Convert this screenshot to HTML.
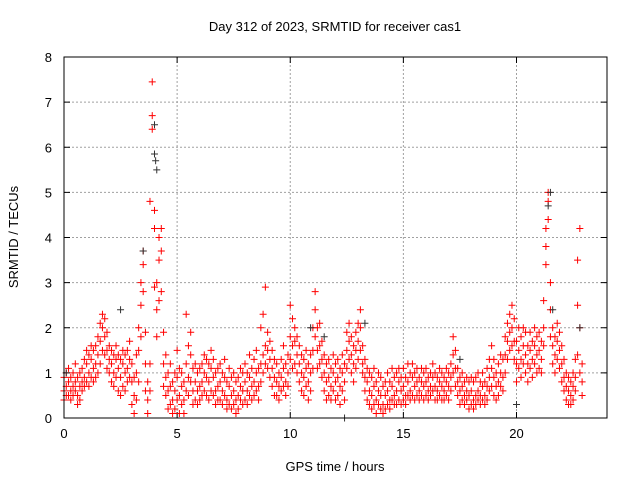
<!DOCTYPE html>
<html><head><meta charset="utf-8"><style>
body{margin:0;background:#fff}
svg text{font-family:"Liberation Sans",sans-serif;font-size:13px;fill:#000}
</style></head><body>
<svg id="chart" width="640" height="480" xmlns="http://www.w3.org/2000/svg">
<rect width="640" height="480" fill="#fff"/>
<text x="335" y="31" text-anchor="middle">Day 312 of 2023, SRMTID for receiver cas1</text>
<text x="335" y="471" text-anchor="middle">GPS time / hours</text>
<text x="18" y="237" text-anchor="middle" transform="rotate(-90 18 237)">SRMTID / TECUs</text>
<g id="grid"></g>
<g id="ticks"></g>
<g id="red"></g>
<g id="black"></g>
<rect x="64" y="57" width="543" height="361" fill="none" stroke="#000" stroke-width="1"/>
</svg>
<script>
const xTicks=[0,5,10,15,20];
const yTicks=[0,1,2,3,4,5,6,7,8];
const redT=[0,0.1,0.2,0.3,0.4,0.5,0.6,0.7,0.8,0.9,1,1.1,1.2,1.3,1.4,1.5,1.6,1.7,1.8,1.9,2,2.1,2.2,2.3,2.4,2.5,2.6,2.7,2.8,2.9,3,3.1,3.2,3.3,3.4,3.5,3.6,3.7,3.8,3.9,4,4.1,4.2,4.3,4.4,4.5,4.6,4.7,4.8,4.9,5,5.1,5.2,5.3,5.4,5.5,5.6,5.7,5.8,5.9,6,6.1,6.2,6.3,6.4,6.5,6.6,6.7,6.8,6.9,7,7.1,7.2,7.3,7.4,7.5,7.6,7.7,7.8,7.9,8,8.1,8.2,8.3,8.4,8.5,8.6,8.7,8.8,8.9,9,9.1,9.2,9.3,9.4,9.5,9.6,9.7,9.8,9.9,10,10.1,10.2,10.3,10.4,10.5,10.6,10.7,10.8,10.9,11,11.1,11.2,11.3,11.4,11.5,11.6,11.7,11.8,11.9,12,12.1,12.2,12.3,12.4,12.5,12.6,12.7,12.8,12.9,13,13.1,13.2,13.3,13.4,13.5,13.6,13.7,13.8,13.9,14,14.1,14.2,14.3,14.4,14.5,14.6,14.7,14.8,14.9,15,15.1,15.2,15.3,15.4,15.5,15.6,15.7,15.8,15.9,16,16.1,16.2,16.3,16.4,16.5,16.6,16.7,16.8,16.9,17,17.1,17.2,17.3,17.4,17.5,17.6,17.7,17.8,17.9,18,18.1,18.2,18.3,18.4,18.5,18.6,18.7,18.8,18.9,19,19.1,19.2,19.3,19.4,19.5,19.6,19.7,19.8,19.9,20,20.1,20.2,20.3,20.4,20.5,20.6,20.7,20.8,20.9,21,21.1,21.2,21.3,21.4,21.5,21.6,21.7,21.8,21.9,22,22.1,22.2,22.3,22.4,22.5,22.6,22.7,22.8,22.9];
const redV=[
[0.9,0.6,0.4],[0.7,1.0,0.5],[0.8,0.5,1.1],[0.6,0.9,0.4],[1.0,0.7,0.5],[0.8,1.2,0.6],[0.9,0.5,0.3],[0.7,1.0,0.4],[1.1,0.8,0.6],[0.9,1.3,0.7],
[1.2,0.8,1.5],[1.0,1.4,0.7],[1.3,0.9,1.6],[1.1,1.5,0.8],[1.6,1.2,0.9],[1.4,1.0,1.8],[1.7,2.1,1.2],[2.0,1.5,2.3],[1.8,1.4,2.2],[1.5,1.1,1.9],
[1.3,1.0,1.6],[1.2,0.8,1.5],[1.0,1.4,0.7],[1.3,0.9,1.6],[1.1,0.6,1.4],[0.9,1.3,0.5],[1.2,0.7,1.5],[1.0,1.4,0.6],[1.5,1.1,0.8],[1.3,0.9,1.7],
[0.8,0.3,1.2],[0.5,0.1,0.9],[1.0,0.4,1.4],[1.5,0.8,2.0],[2.5,1.8,3.0],[3.4,2.8,3.7],[1.9,1.2,0.6],[0.4,0.1,0.8],[1.2,0.6,4.8],[6.7,6.4,7.45],
[4.6,4.2,2.9],[2.4,1.8,3.0],[3.5,4.0,2.6],[4.2,3.7,2.8],[1.9,1.2,0.7],[0.9,0.5,1.4],[1.0,0.6,0.2],[0.7,0.3,1.2],[0.4,0.1,0.8],[0.6,0.2,1.0],
[0.9,0.4,1.5],[0.5,0.1,1.1],[0.7,0.3,1.0],[0.4,0.8,0.1],[1.2,0.6,2.3],[0.9,1.6,0.5],[1.4,0.8,1.9],[0.6,1.1,0.3],[0.8,0.4,1.2],[1.0,0.6,0.3],
[0.7,1.1,0.4],[1.2,0.8,0.5],[1.0,1.4,0.6],[1.3,0.9,0.5],[0.8,1.2,0.4],[1.1,0.6,1.5],[0.9,1.3,0.5],[1.0,0.6,0.3],[0.7,1.1,0.4],[0.8,0.4,1.2],
[0.6,1.0,0.3],[0.9,0.5,1.3],[0.4,0.8,0.2],[0.7,0.3,1.1],[0.5,0.9,0.2],[0.6,0.3,1.0],[0.4,0.8,0.1],[0.5,0.2,0.9],[0.7,0.4,1.1],[0.6,1.0,0.3],
[0.8,0.4,1.2],[0.6,1.0,0.3],[0.9,0.5,1.4],[1.1,0.7,0.4],[0.8,1.3,0.5],[1.0,0.6,1.5],[0.7,1.1,0.4],[1.2,0.8,2.0],[1.4,1.0,2.3],[1.6,1.2,2.9],
[1.5,1.1,1.9],[1.3,0.9,1.7],[1.1,0.7,1.5],[0.9,0.5,1.3],[0.8,1.2,0.5],[0.7,1.0,0.4],[0.9,0.6,1.3],[1.1,0.7,1.6],[0.8,1.2,0.5],[1.0,0.7,1.4],
[1.8,1.3,2.5],[2.2,1.6,1.1],[1.7,1.2,2.0],[1.4,1.0,1.8],[1.2,0.8,1.6],[1.0,0.6,1.4],[0.9,1.3,0.5],[1.1,0.7,1.5],[0.8,1.2,0.4],[1.0,0.6,1.4],
[1.5,1.1,2.0],[2.4,1.8,2.8],[2.0,1.5,1.1],[1.6,1.2,2.1],[1.3,0.9,1.7],[1.0,0.6,1.4],[0.8,1.2,0.4],[0.9,0.5,1.3],[0.7,1.1,0.4],[1.0,0.6,1.4],
[0.8,1.2,0.4],[0.9,0.5,1.3],[0.7,1.1,0.3],[1.0,0.6,1.4],[0.8,0.4,1.2],[1.5,1.1,1.9],[1.7,1.3,2.1],[1.4,1.0,1.8],[1.2,0.8,1.6],[1.5,1.1,1.9],
[1.7,1.3,2.1],[2.0,1.5,2.4],[1.6,1.2,1.0],[1.3,0.9,0.6],[0.8,0.4,1.1],[0.6,0.3,1.0],[0.5,0.2,0.9],[0.7,0.3,1.1],[0.4,0.1,0.8],[0.6,0.3,1.0],
[0.5,0.2,0.9],[0.3,0.1,0.7],[0.5,0.2,0.8],[0.6,0.3,1.0],[0.4,0.8,0.2],[0.7,0.4,1.1],[0.5,0.9,0.3],[0.6,0.3,1.0],[0.8,0.4,1.1],[0.6,0.9,0.3],
[0.7,0.4,1.1],[0.5,0.9,0.3],[0.8,0.5,1.2],[0.6,1.0,0.4],[0.9,0.5,1.2],[0.7,0.4,1.0],[0.8,0.5,1.1],[0.6,0.9,0.4],[0.8,0.5,1.1],[0.7,1.0,0.4],
[0.8,0.5,1.1],[0.6,0.9,0.4],[0.7,0.5,1.0],[0.9,0.6,1.2],[0.7,0.4,1.0],[0.6,0.9,0.4],[0.8,0.5,1.1],[0.7,0.4,1.0],[0.6,0.9,0.4],[0.8,0.5,1.1],
[0.7,1.0,0.4],[0.9,0.6,1.2],[1.4,1.0,1.8],[1.1,0.7,1.5],[0.8,0.5,1.1],[0.6,0.3,0.9],[0.7,0.4,1.0],[0.5,0.8,0.3],[0.6,0.9,0.4],[0.5,0.2,0.8],
[0.6,0.3,0.9],[0.4,0.8,0.2],[0.5,0.3,0.9],[0.6,1.0,0.4],[0.5,0.3,0.8],[0.7,0.4,1.0],[0.5,0.8,0.3],[0.7,1.1,0.4],[0.9,0.6,1.3],[1.1,0.7,1.6],
[0.9,0.5,1.3],[0.7,1.0,0.4],[0.8,0.5,1.2],[1.0,0.7,1.4],[0.9,0.6,1.3],[1.4,1.0,1.8],[1.7,1.3,2.1],[1.9,1.5,2.3],[2.0,1.6,2.5],[1.7,1.3,2.2],
[1.2,0.8,1.7],[1.5,1.1,2.0],[1.3,0.9,1.8],[1.6,1.2,2.0],[1.4,1.0,1.9],[1.2,0.8,1.6],[1.5,1.1,1.9],[1.3,0.9,1.7],[1.6,1.2,2.0],[1.4,1.0,1.8],
[1.5,1.1,1.9],[1.3,1.0,1.7],[2.0,1.6,2.6],[3.8,3.4,4.2],[4.8,4.4,5.0],[3.0,2.4,1.8],[1.6,1.2,2.0],[1.4,1.0,1.8],[1.7,1.3,2.1],[1.5,1.1,1.9],
[1.2,0.8,1.6],[0.9,0.6,1.3],[0.7,0.4,1.0],[0.6,0.3,0.9],[0.5,0.8,0.3],[0.7,1.0,0.4],[0.9,0.6,1.3],[1.4,2.5,3.5],[4.2,2.0,1.0],[0.8,0.5,1.2]];
const blackT=[0.1,2.5,3.5,4.0,4.0,4.05,4.1,10.9,11.5,12.4,13.3,17.5,20.0,21.4,21.5,21.6,22.8];
const blackV=[1.0,2.4,3.7,6.5,5.85,5.7,5.5,2.0,1.8,0.0,2.1,1.3,0.3,4.7,5.0,2.4,2.0];

const NS='http://www.w3.org/2000/svg';
const X0=64,X1=607,Y0=418,Y1=57,XMAX=24,YMAX=8;
function sx(v){return X0+v/XMAX*(X1-X0);}
function sy(v){return Y0-v/YMAX*(Y0-Y1);}
function mk(tag,attrs,parent){const e=document.createElementNS(NS,tag);for(const k in attrs)e.setAttribute(k,attrs[k]);parent.appendChild(e);return e;}
const grid=document.getElementById('grid'),ticks=document.getElementById('ticks');
xTicks.forEach(t=>{const x=sx(t);
 if(t>0){const g=mk('line',{x1:x,x2:x,y1:Y1,y2:Y0,stroke:'#a0a0a0','stroke-dasharray':'2,2'},grid);
 
 }
 mk('line',{x1:x,x2:x,y1:Y0,y2:Y0-6,stroke:'#000'},ticks);mk('line',{x1:x,x2:x,y1:Y1,y2:Y1+6,stroke:'#000'},ticks);
 const l=mk('text',{x:x,y:Y0+20,'text-anchor':'middle'},ticks);l.textContent=t;
 
 });
yTicks.forEach(t=>{const y=sy(t);
 if(t>0&&t<8){const g=mk('line',{x1:X0,x2:X1,y1:y,y2:y,stroke:'#a0a0a0','stroke-dasharray':'2,2'},grid);
 
 }
 mk('line',{x1:X0,x2:X0+6,y1:y,y2:y,stroke:'#000'},ticks);mk('line',{x1:X1,x2:X1-6,y1:y,y2:y,stroke:'#000'},ticks);
 const l=mk('text',{x:X0-12,y:y+5,'text-anchor':'end'},ticks);l.textContent=t;
 
 });
function plus(x,y,c,p){const e=mk('path',{d:`M${x-3.5},${y}h7M${x},${y-3.5}v7`,stroke:c,'stroke-width':1,fill:'none'},p);return e;}
const red=document.getElementById('red');
redT.forEach((t,i)=>{redV[i].forEach(v=>{const e=plus(sx(t),sy(v),'#f00',red);
 
 });});
const blk=document.getElementById('black');
blackT.forEach((t,i)=>{const e=plus(sx(t),sy(blackV[i]),'#333',blk);
 
 });
</script>
</body></html>
